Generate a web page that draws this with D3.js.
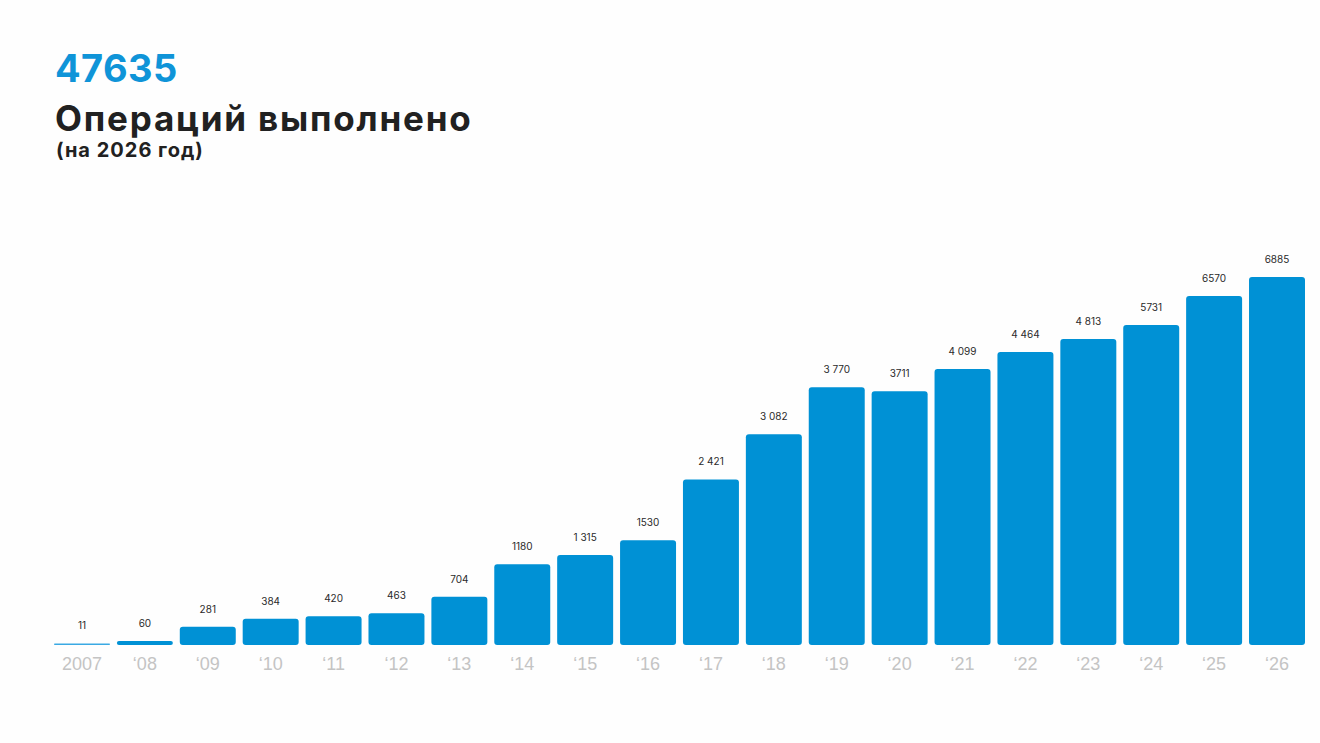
<!DOCTYPE html>
<html>
<head>
<meta charset="utf-8">
<script src="https://cdn.jsdelivr.net/npm/d3@7"></script>
<style>
  body { margin: 0; background: #fefefe; font-family: Inter, "Noto Sans", sans-serif; }
  #chart { width: 1320px; height: 743px; }
  .bigNumber { font-weight: 700; fill: #0f94d8; letter-spacing: 0.4px; }
  .chartTitle { font-weight: 700; fill: #212121; letter-spacing: 1.8px; }
  .subTitle { font-weight: 700; fill: #212121; letter-spacing: 1px; }
  .valueLabel { font-size: 10px; fill: #2a2a2a; }
  .xAxis text { font-size: 18px; fill: #c4c4c4; }
</style>
</head>
<body>
<div id="chart"><svg width="1320" height="743"></svg></div>
<script>
// data
const years = ["2007", "‘08", "‘09", "‘10", "‘11", "‘12", "‘13", "‘14", "‘15", "‘16",
  "‘17", "‘18", "‘19", "‘20", "‘21", "‘22", "‘23", "‘24", "‘25", "‘26"];
const valueLabels = ["11", "60", "281", "384", "420", "463", "704", "1180", "1 315", "1530",
  "2 421", "3 082", "3 770", "3711", "4 099", "4 464", "4 813", "5731", "6570", "6885"];
// bar levels as drawn in the picture (same units; upper bars are compressed there)
const barLevels = [22, 60, 265, 384, 420, 463, 704, 1180, 1315, 1530,
  2421, 3082, 3770, 3711, 4035, 4284, 4474, 4678, 5102, 5380];
const total = "47635";

// setup
const svg = d3.select("#chart").select("svg");
const margin = {top: 240, right: 15, bottom: 98, left: 54};
const width = 1320, height = 743;
const plotHeight = height - margin.top - margin.bottom;

const xScale = d3.scaleBand()
  .domain(years)
  .range([margin.left, width - margin.right])
  .paddingInner(0.11)
  .paddingOuter(0);

const yScale = d3.scaleLinear()
  .domain([0, plotHeight / 0.0684])
  .range([height - margin.bottom, margin.top]);

// header
svg.append("text").attr("class", "bigNumber")
  .attr("x", 55).attr("y", 82).attr("font-size", 38).text(total);
svg.append("text").attr("class", "chartTitle")
  .attr("x", 55).attr("y", 131).attr("font-size", 35).text("Операций выполнено");
svg.append("text").attr("class", "subTitle")
  .attr("x", 56).attr("y", 157).attr("font-size", 20).text("(на 2026 год)");

// bars
const bars = years.map((y, i) => ({year: y, level: barLevels[i], label: valueLabels[i]}));

svg.append("g").selectAll("rect")
  .data(bars)
  .join("rect")
    .attr("x", d => xScale(d.year))
    .attr("y", d => yScale(d.level))
    .attr("width", xScale.bandwidth())
    .attr("height", d => yScale(0) - yScale(d.level))
    .attr("rx", d => Math.min(3, (yScale(0) - yScale(d.level)) / 2))
    .attr("fill", (d, i) => i === 0 ? "#3aa9e3" : "#0091d5");

svg.append("g").selectAll("text")
  .data(bars)
  .join("text")
    .attr("class", "valueLabel")
    .attr("x", d => xScale(d.year) + xScale.bandwidth() / 2)
    .attr("y", d => yScale(d.level) - 14)
    .attr("text-anchor", "middle")
    .text(d => d.label);

// x axis
svg.append("g")
  .attr("class", "xAxis")
  .attr("transform", `translate(0, ${height - margin.bottom})`)
  .call(d3.axisBottom(xScale).tickSize(0).tickPadding(12))
  .call(g => g.select(".domain").remove())
  .call(g => g.selectAll("text").attr("font-family", null));
</script>
</body>
</html>
